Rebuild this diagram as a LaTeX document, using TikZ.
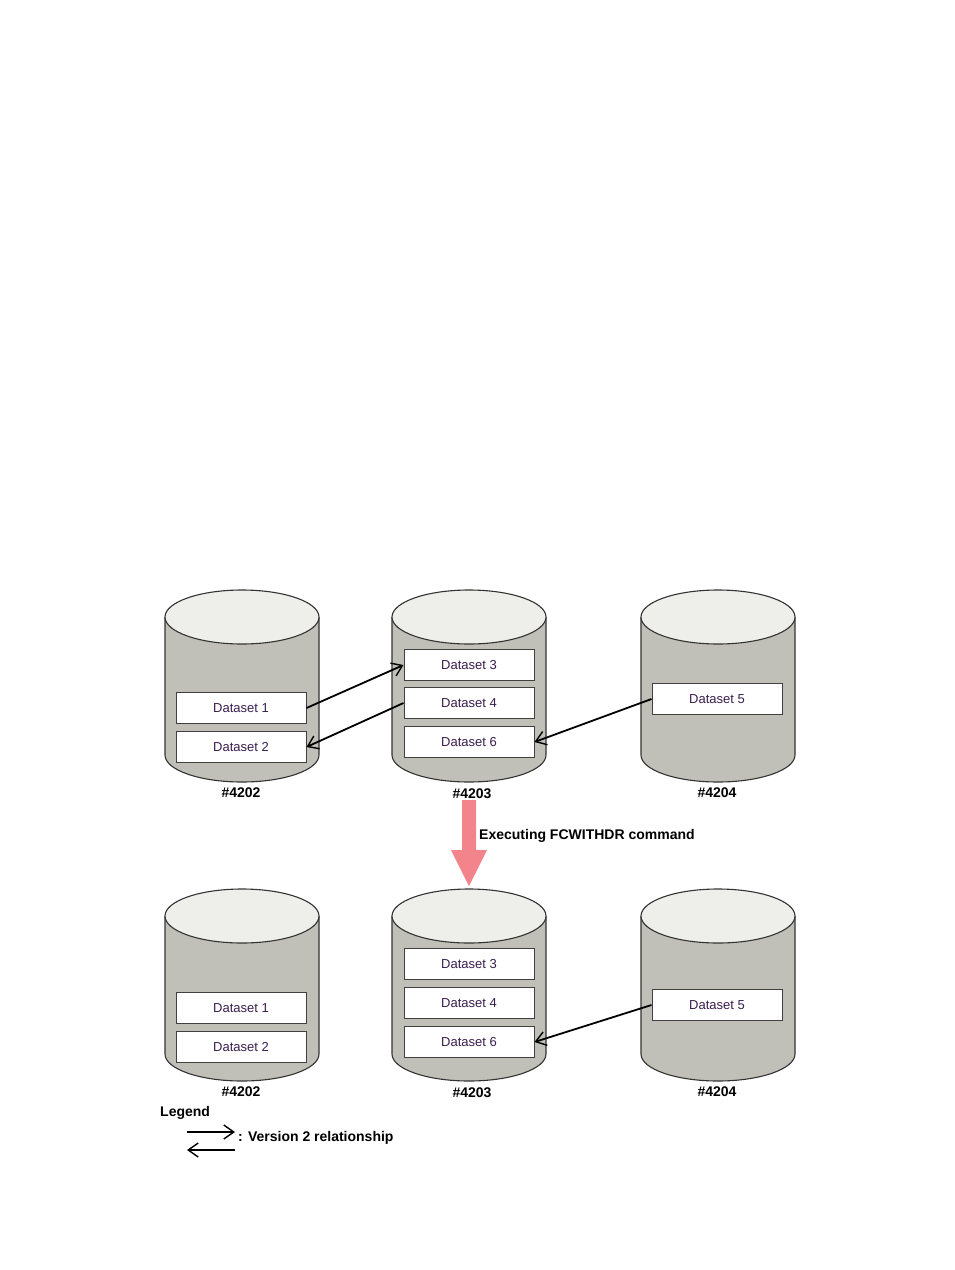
\documentclass[tikz,border=0pt]{standalone}
\usepackage{fontspec}
\setmainfont{Liberation Sans}
\usetikzlibrary{arrows.meta}
\definecolor{cylbody}{HTML}{C0C0B8}
\definecolor{cyltop}{HTML}{EEEEEA}
\definecolor{dstext}{HTML}{3A1E4E}
\definecolor{pinkarrow}{HTML}{F4848C}
\tikzset{
  dsbox/.style={draw=black!75, line width=1pt, fill=white, minimum width=130pt, minimum height=31pt, inner sep=0pt, font=\fontsize{13}{15}\selectfont, text=dstext},
  cyllabel/.style={font=\bfseries\fontsize{14}{16}\selectfont, inner sep=0pt},
  relarrow/.style={line width=1.8pt, -{Straight Barb[length=10pt,width=14pt,line width=1.4pt]}},
}
\newcommand{\drawcyl}[3]{% x-left, top-center-y, bottom-center-y
  \fill[cylbody] (#1,#2) -- (#1,#3) arc[start angle=180,end angle=360,x radius=77pt,y radius=27pt] -- (#1+154,#2) -- cycle;
  \draw[line width=1.1pt, black!80] (#1,#2) -- (#1,#3) arc[start angle=180,end angle=360,x radius=77pt,y radius=27pt] -- (#1+154,#2);
  \draw[line width=1.1pt, black!80, fill=cyltop] (#1+77,#2) ellipse[x radius=77pt,y radius=27pt];
}
\begin{document}
\begin{tikzpicture}[x=1pt,y=-1pt]
\useasboundingbox[fill=white] (0,0) rectangle (954,1270);
% ---- top row ----
\drawcyl{165}{617}{755}
\drawcyl{392}{617}{755}
\drawcyl{641}{617}{755}
\node[dsbox] (d1) at (241,708) {Dataset 1};
\node[dsbox] (d2) at (241,747) {Dataset 2};
\node[dsbox] (d3) at (469,665) {Dataset 3};
\node[dsbox] (d4) at (469,703) {Dataset 4};
\node[dsbox] (d6) at (469,742) {Dataset 6};
\node[dsbox] (d5) at (717,699) {Dataset 5};
\node[cyllabel] (l1) at (241,793) {\#4202};
\node[cyllabel] (l2) at (472,794) {\#4203};
\node[cyllabel] (l3) at (717,793) {\#4204};
\draw[relarrow] (d1.east) -- (d3.west);
\draw[relarrow] (d4.west) -- (d2.east);
\draw[relarrow] (d5.west) -- (d6.east);
% ---- transition arrow ----
\fill[pinkarrow] (462,800) -- (476,800) -- (476,850) -- (487,850) -- (469,886) -- (451,850) -- (462,850) -- cycle;
\node[cyllabel, anchor=west] (exe) at (479,836) {Executing FCWITHDR command};
% ---- bottom row ----
\drawcyl{165}{916}{1054}
\drawcyl{392}{916}{1054}
\drawcyl{641}{916}{1054}
\node[dsbox] (e1) at (241,1008) {Dataset 1};
\node[dsbox] (e2) at (241,1047) {Dataset 2};
\node[dsbox] (e3) at (469,964) {Dataset 3};
\node[dsbox] (e4) at (469,1003) {Dataset 4};
\node[dsbox] (e6) at (469,1042) {Dataset 6};
\node[dsbox] (e5) at (717,1005) {Dataset 5};
\node[cyllabel] (m1) at (241,1092) {\#4202};
\node[cyllabel] (m2) at (472,1093) {\#4203};
\node[cyllabel] (m3) at (717,1092) {\#4204};
\draw[relarrow] (e5.west) -- (e6.east);
% ---- legend ----
\node[cyllabel, anchor=west] (leg) at (160,1113) {Legend};
\coordinate (la1) at (187,1132);
\coordinate (la2) at (235,1132);
\coordinate (lb1) at (235,1150);
\coordinate (lb2) at (187,1150);
\draw[relarrow] (la1) -- (la2);
\draw[relarrow] (lb1) -- (lb2);
\node[cyllabel, anchor=west] (legtext) at (238,1138) {: Version 2 relationship};
\end{tikzpicture}
\end{document}
